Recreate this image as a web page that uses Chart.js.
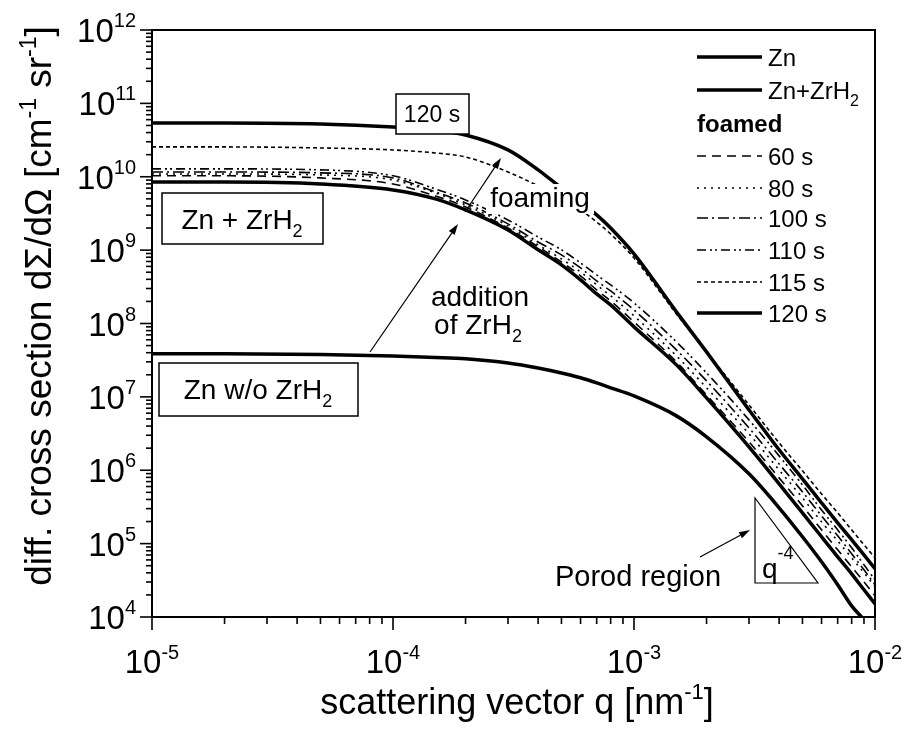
<!DOCTYPE html>
<html>
<head>
<meta charset="utf-8">
<script src="https://cdn.jsdelivr.net/npm/chart.js@4.4.1/dist/chart.umd.min.js"></script>
<style>
  body { margin: 0; background: #fff; }
  #wrap { width: 911px; height: 731px; }
</style>
</head>
<body>
<div id="wrap"><canvas id="plot" width="911" height="731"></canvas></div>
<script>
// scattering vector q [nm^-1], shared by all curves
const qValues = [1e-5, 2e-5, 5e-5, 1e-4, 1.5e-4, 2e-4, 3e-4, 4e-4, 5e-4, 6e-4, 7e-4, 8e-4,
                 1e-3, 1.5e-3, 2e-3, 3e-3, 4e-3, 5e-3, 6e-3, 7e-3, 8e-3, 9e-3, 1e-2]

// diff. cross section dSigma/dOmega [cm^-1 sr^-1]
const znOnly = [3.86e7, 3.86e7, 3.79e7, 3.62e7, 3.45e7, 3.30e7, 2.90e7, 2.48e7, 2.12e7, 1.82e7, 1.55e7, 1.33e7,
                1.03e7, 5.51e6, 2.85e6, 8.93e5, 3.08e5, 1.24e5, 5.65e4, 2.75e4, 1.42e4, 9.16e3, 5.9e3]
const znZrH2 = [8.49e9, 8.49e9, 7.98e9, 6.61e9, 4.99e9, 3.53e9, 1.88e9, 1.01e9, 6.29e8, 3.93e8, 2.53e8, 1.79e8,
                9.0e7, 2.73e7, 9.68e6, 2.08e6, 6.53e5, 2.63e5, 1.24e5, 6.61e4, 3.88e4, 2.35e4, 1.51e4]
const foamed60 = [1.03e10, 1.03e10, 9.64e9, 7.98e9, 5.47e9, 3.88e9, 2.0e9, 1.11e9, 6.90e8, 4.46e8, 2.87e8, 2.03e8,
                  1.05e8, 3.0e7, 1.06e7, 2.44e6, 7.87e5, 3.27e5, 1.54e5, 8.24e4, 4.83e4, 3.02e4, 1.95e4]
const foamed80 = [1.09e10, 1.09e10, 1.06e10, 9.04e9, 6.01e9, 4.13e9, 2.14e9, 1.18e9, 7.59e8, 5.05e8, 3.36e8, 2.38e8,
                  1.27e8, 3.62e7, 1.33e7, 3.13e6, 1.01e6, 4.21e5, 1.98e5, 1.09e5, 6.41e4, 4.0e4, 2.58e4]
const foamed100 = [1.16e10, 1.16e10, 1.13e10, 9.64e9, 6.21e9, 4.40e9, 2.28e9, 1.29e9, 8.61e8, 5.72e8, 3.80e8, 2.78e8,
                   1.53e8, 4.37e7, 1.65e7, 3.78e6, 1.22e6, 5.08e5, 2.39e5, 1.28e5, 7.26e4, 4.40e4, 2.75e4]
const foamed110 = [1.28e10, 1.28e10, 1.24e10, 1.03e10, 6.82e9, 4.83e9, 2.58e9, 1.51e9, 1.01e9, 6.70e8, 4.59e8, 3.36e8,
                   1.91e8, 5.61e7, 2.12e7, 4.86e6, 1.57e6, 6.32e5, 2.88e5, 1.54e5, 8.77e4, 5.14e4, 3.21e4]
const foamed115 = [2.55e10, 2.55e10, 2.47e10, 2.32e10, 2.11e10, 1.86e10, 1.16e10, 7.50e9, 4.99e9, 3.53e9, 2.42e9, 1.66e9,
                   7.83e8, 1.35e8, 4.10e7, 7.78e6, 2.36e6, 9.82e5, 4.76e5, 2.63e5, 1.54e5, 9.64e4, 6.41e4]
const foamed120 = [5.41e10, 5.41e10, 5.24e10, 4.77e10, 4.34e10, 3.71e10, 2.32e10, 1.24e10, 7.03e9, 4.54e9, 3.02e9, 2.0e9,
                   8.87e8, 1.44e8, 4.10e7, 6.65e6, 1.90e6, 7.64e5, 3.60e5, 1.92e5, 1.13e5, 7.03e4, 4.54e4]

// axis ranges and tick labels
const xExponents = [-5, -4, -3, -2]
const yExponents = [4, 5, 6, 7, 8, 9, 10, 11, 12]

const FONT = '"Liberation Sans", Arial, Helvetica, sans-serif'

// draw a string made of pieces: [text, size, dy, bold]
function drawRich(ctx, x, y, parts, align) {
    let total = 0
    parts.forEach(p => {
        ctx.font = (p[3] ? 'bold ' : '') + p[1] + 'px ' + FONT
        p.w = ctx.measureText(p[0]).width
        total += p.w
    })
    let cx = x
    if (align === 'center') cx = x - total / 2
    if (align === 'right') cx = x - total
    parts.forEach(p => {
        ctx.font = (p[3] ? 'bold ' : '') + p[1] + 'px ' + FONT
        ctx.fillText(p[0], cx, y + (p[2] || 0))
        cx += p.w
    })
    return total
}

function arrow(ctx, x1, y1, x2, y2) {
    const a = Math.atan2(y2 - y1, x2 - x1)
    const len = 11, half = 3.5
    ctx.beginPath()
    ctx.moveTo(x1, y1)
    ctx.lineTo(x2 - Math.cos(a) * len, y2 - Math.sin(a) * len)
    ctx.stroke()
    ctx.beginPath()
    ctx.moveTo(x2, y2)
    ctx.lineTo(x2 - Math.cos(a) * len - Math.sin(a) * half, y2 - Math.sin(a) * len + Math.cos(a) * half)
    ctx.lineTo(x2 - Math.cos(a) * len + Math.sin(a) * half, y2 - Math.sin(a) * len - Math.cos(a) * half)
    ctx.closePath()
    ctx.fill()
}

function labelBox(ctx, x1, y1, x2, y2, parts, cx, base) {
    ctx.fillStyle = '#fff'
    ctx.fillRect(x1, y1, x2 - x1, y2 - y1)
    ctx.strokeStyle = '#000'
    ctx.lineWidth = 1.5
    ctx.strokeRect(x1, y1, x2 - x1, y2 - y1)
    ctx.fillStyle = '#000'
    drawRich(ctx, cx, base, parts, 'center')
}

const series = [
    { label: 'Zn', data: znOnly, width: 3.5, dash: [] },
    { label: 'Zn+ZrH2', data: znZrH2, width: 3.5, dash: [] },
    { label: '60 s', data: foamed60, width: 1.6, dash: [9, 6] },
    { label: '80 s', data: foamed80, width: 1.6, dash: [2, 5] },
    { label: '100 s', data: foamed100, width: 1.6, dash: [11, 4, 2, 4] },
    { label: '110 s', data: foamed110, width: 1.6, dash: [9, 4, 2, 3, 2, 4] },
    { label: '115 s', data: foamed115, width: 1.6, dash: [4, 3] },
    { label: '120 s', data: foamed120, width: 3.5, dash: [] },
]

// everything that is not a data line: frame, ticks, labels, legend, notes
const decorations = {
    id: 'decorations',
    afterDatasetsDraw(chart) {
        const ctx = chart.ctx
        const xs = chart.scales.x, ys = chart.scales.y
        const area = chart.chartArea
        ctx.save()
        ctx.textBaseline = 'alphabetic'
        ctx.fillStyle = '#000'
        ctx.strokeStyle = '#000'

        // boxed labels
        labelBox(ctx, 396, 94, 469, 134, [['120 s', 23]], 432, 122)
        labelBox(ctx, 162, 193, 323, 244, [['Zn + ZrH', 28], ['2', 18, 8]], 242, 229)
        labelBox(ctx, 159, 363, 358, 416, [['Zn w/o ZrH', 28], ['2', 18, 8]], 258, 399)

        // "foaming" cuts through the lines
        ctx.fillStyle = '#fff'
        ctx.fillRect(486, 184, 108, 30)
        ctx.fillStyle = '#000'
        drawRich(ctx, 540, 207, [['foaming', 28]], 'center')
        drawRich(ctx, 480, 306, [['addition', 28]], 'center')
        drawRich(ctx, 478, 334, [['of ZrH', 28], ['2', 18, 8]], 'center')
        drawRich(ctx, 638, 586, [['Porod region', 29]], 'center')

        ctx.lineWidth = 1.2
        arrow(ctx, 370, 352, 458, 224)
        arrow(ctx, 465, 212, 501, 158)
        arrow(ctx, 700, 557, 750, 530)

        // q^-4 triangle
        ctx.beginPath()
        ctx.moveTo(755, 498)
        ctx.lineTo(755, 583)
        ctx.lineTo(818, 583)
        ctx.closePath()
        ctx.stroke()
        drawRich(ctx, 762, 578, [['q', 28], ['-4', 18, -19]], 'left')

        // legend
        const rows = [57, 90, 156, 188, 218, 250, 282, 313]
        series.forEach((s, i) => {
            ctx.lineWidth = s.width
            ctx.setLineDash(s.dash)
            ctx.beginPath()
            ctx.moveTo(697, rows[i])
            ctx.lineTo(762, rows[i])
            ctx.stroke()
            ctx.setLineDash([])
            const parts = s.label === 'Zn+ZrH2' ? [['Zn+ZrH', 24], ['2', 16, 7]] : [[s.label, 24]]
            drawRich(ctx, 768, rows[i] + 9, parts, 'left')
        })
        drawRich(ctx, 697, 132, [['foamed', 24, 0, true]], 'left')

        // frame
        ctx.lineWidth = 2
        ctx.strokeRect(area.left, area.top, area.right - area.left, area.bottom - area.top)

        // x ticks
        ctx.lineWidth = 1.6
        xExponents.forEach(e => {
            for (let k = 1; k <= 9; k++) {
                const v = k * Math.pow(10, e)
                if (v > xs.max * 1.0001) break
                const px = xs.getPixelForValue(v)
                ctx.beginPath()
                ctx.moveTo(px, area.bottom)
                ctx.lineTo(px, area.bottom + (k === 1 ? 13 : 7))
                ctx.stroke()
            }
            drawRich(ctx, xs.getPixelForValue(Math.pow(10, e)), 673, [['10', 33], [String(e), 20, -14]], 'center')
        })
        // y ticks
        yExponents.forEach(e => {
            for (let k = 1; k <= 9; k++) {
                const v = k * Math.pow(10, e)
                if (v > ys.max * 1.0001) break
                const py = ys.getPixelForValue(v)
                ctx.beginPath()
                ctx.moveTo(area.left, py)
                ctx.lineTo(area.left - (k === 1 ? 12 : 6), py)
                ctx.stroke()
            }
            const py = ys.getPixelForValue(Math.pow(10, e))
            drawRich(ctx, 136, py + 12, [['10', 33], [String(e), 20, -15]], 'right')
        })

        // axis titles
        drawRich(ctx, 517, 714, [['scattering vector q [nm', 36], ['-1', 22, -15], [']', 36]], 'center')
        ctx.translate(51, 306)
        ctx.rotate(-Math.PI / 2)
        drawRich(ctx, 0, 0, [['diff. cross section d\u03A3/d\u03A9 [cm', 37], ['-1', 23, -15], [' sr', 37], ['-1', 23, -15], [']', 37]], 'center')
        ctx.restore()
    }
}

const ctx = document.getElementById('plot').getContext('2d')
const chart = new Chart(ctx, {
    type: 'line',
    data: {
        datasets: series.map(s => ({
            label: s.label,
            data: qValues.map((q, i) => ({ x: q, y: s.data[i] })),
            borderColor: '#000',
            borderWidth: s.width,
            borderDash: s.dash,
            pointRadius: 0,
            fill: false,
            cubicInterpolationMode: 'monotone',
            clip: 0,
        }))
    },
    options: {
        responsive: false,
        animation: false,
        layout: { padding: { left: 152, top: 30, right: 36, bottom: 114 } },
        plugins: { legend: { display: false }, tooltip: { enabled: false } },
        scales: {
            x: { type: 'logarithmic', min: 1e-5, max: 1e-2, display: false },
            y: { type: 'logarithmic', min: 1e4, max: 1e12, display: false },
        },
    },
    plugins: [decorations],
})
</script>
</body>
</html>
